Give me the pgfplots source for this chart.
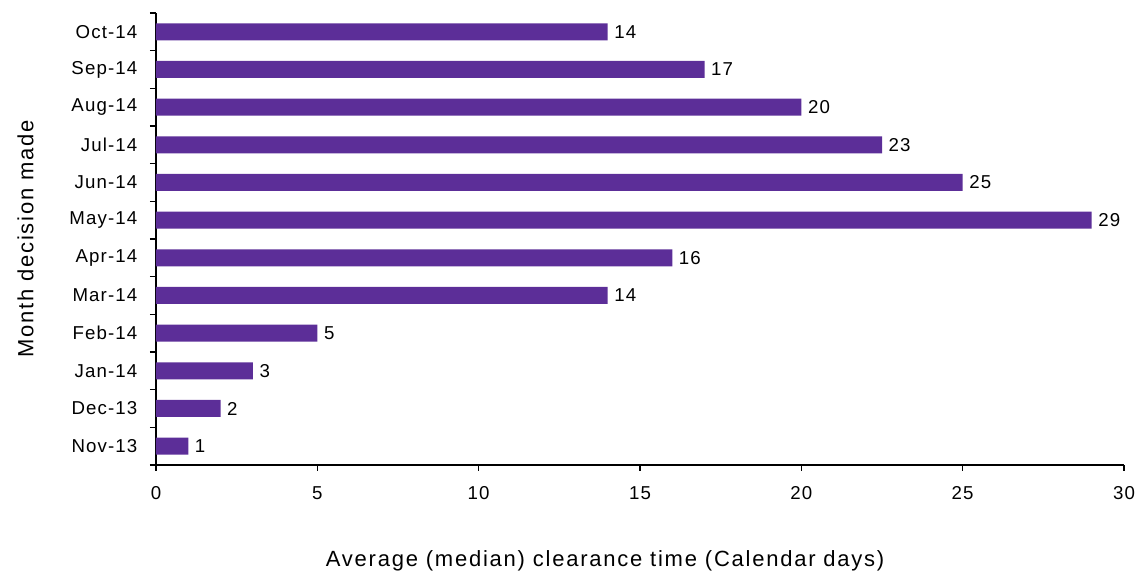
\documentclass[border=0pt]{standalone}
\usepackage{fontspec}
\setmainfont{Liberation Sans}
\newfontfamily\labelfont[LetterSpace=8]{Liberation Sans}
\newfontfamily\tickfont[LetterSpace=6]{Liberation Sans}
\usepackage{pgfplots}
\pgfplotsset{compat=1.18}
\definecolor{barpurple}{RGB}{92,46,152}

\begin{document}
\begin{tikzpicture}
\begin{axis}[
  scale only axis,
  width=726pt, height=339pt,
  xbar, bar width=12.75pt,
  xmin=0, xmax=30,
  ymin=-0.5, ymax=11.5,
  axis x line*=bottom, axis y line*=left,
  axis line style={-, black, line width=0.9pt},
  xtick={0,5,...,30},
  % category boundaries carry the tick marks, the names sit between them
  ytick={-0.5,0.5,...,11.5},
  yticklabels={},
  extra y ticks={0,...,11},
  extra y tick labels={Nov-13,Dec-13,Jan-14,Feb-14,Mar-14,Apr-14,May-14,Jun-14,Jul-14,Aug-14,Sep-14,Oct-14},
  extra y tick style={tick style={draw=none}},
  major tick length=4.5pt,
  tick align=outside,
  tick style={black, line width=0.9pt},
  /pgf/number format/assume math mode=true,
  tick label style={font=\tickfont\fontsize{14}{16}\selectfont},
  xticklabel style={yshift=-8pt},
  yticklabel style={xshift=-6pt},
  xlabel={Average (median) clearance time (Calendar days)},
  ylabel={Month decision made},
  label style={font=\labelfont\fontsize{16.5}{19}\selectfont},
  xlabel style={at={(rel axis cs:0.464,0)}, anchor=base, yshift=-76.5pt},
  ylabel style={at={(rel axis cs:0,0.5)}, anchor=base, yshift=92pt},
  nodes near coords,
  nodes near coords style={font=\tickfont\fontsize{14}{16}\selectfont, anchor=west, xshift=1.5pt,
    /pgf/number format/.cd, fixed, precision=0},
  clip=false,
]
\addplot[fill=barpurple, draw=none] coordinates {
  (1,0) (2,1) (3,2) (5,3) (14,4) (16,5) (29,6) (25,7) (22.5,8) (20,9) (17,10) (14,11)
};
\end{axis}
\pgfresetboundingbox
\path (-117pt,-81.75pt) rectangle (734.25pt,348.75pt);
\end{tikzpicture}
\end{document}
